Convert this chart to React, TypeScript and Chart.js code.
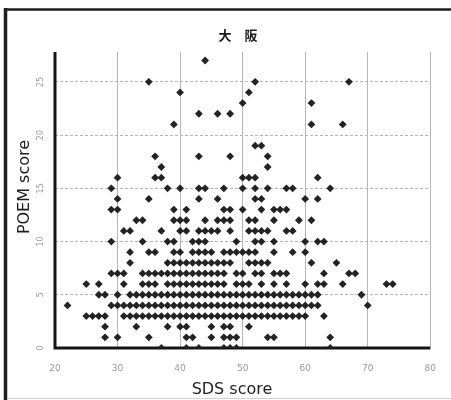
import React, { useEffect, useRef } from "react";
import { Chart, registerables } from "chart.js";

Chart.register(...registerables);

// ---- text ----
const chartTitle = "大　阪";
const xAxisTitle = "SDS score";
const yAxisTitle = "POEM score";

// ---- axis ticks ----
const xTickValues = [20, 30, 40, 50, 60, 70, 80];
const yTickValues = [0, 5, 10, 15, 20, 25];

// ---- data: SDS scores observed at each POEM score ----
const sdsAtPoem27 = [44];
const sdsAtPoem25 = [35, 52, 67];
const sdsAtPoem24 = [40, 51];
const sdsAtPoem23 = [50, 61];
const sdsAtPoem22 = [43, 46, 48];
const sdsAtPoem21 = [39, 61, 66];
const sdsAtPoem19 = [52, 53];
const sdsAtPoem18 = [36, 43, 48, 54];
const sdsAtPoem17 = [37, 54];
const sdsAtPoem16 = [30, 36, 37, 50, 51, 52, 62];
const sdsAtPoem15 = [29, 38, 40, 43, 44, 47, 50, 52, 54, 57, 58, 64];
const sdsAtPoem14 = [30, 35, 43, 46, 52, 53, 60, 62];
const sdsAtPoem13 = [29, 30, 39, 41, 47, 48, 50, 53, 55, 56, 57];
const sdsAtPoem12 = [33, 34, 39, 40, 41, 44, 46, 47, 48, 51, 52, 55, 59, 61];
const sdsAtPoem11 = [31, 32, 37, 40, 41, 43, 44, 45, 46, 48, 51, 52, 53, 54, 57, 58];
const sdsAtPoem10 = [29, 34, 38, 39, 42, 43, 44, 49, 52, 53, 55, 60, 62, 63];
const sdsAtPoem9 = [32, 35, 36, 39, 40, 42, 43, 44, 45, 47, 48, 49, 50, 51, 52, 55, 58, 60];
const sdsAtPoem8 = [32, 38, 39, 40, 41, 42, 43, 44, 45, 46, 47, 48, 51, 52, 53, 54, 61, 65];
const sdsAtPoem7 = [29, 30, 31, 34, 35, 36, 37, 38, 39, 40, 41, 42, 43, 44, 45, 46, 47, 49, 50, 52, 53, 55, 56, 57, 63, 67, 68];
const sdsAtPoem6 = [25, 27, 31, 34, 35, 36, 38, 39, 40, 41, 42, 43, 44, 45, 46, 47, 49, 50, 51, 53, 55, 57, 60, 62, 63, 66, 73, 74];
const sdsAtPoem5 = [27, 28, 30, 32, 33, 34, 35, 36, 37, 38, 39, 40, 41, 42, 43, 44, 45, 46, 47, 48, 49, 50, 51, 52, 53, 54, 55, 56, 57, 58, 59, 60, 61, 62, 69];
const sdsAtPoem4 = [22, 29, 30, 31, 32, 33, 34, 35, 36, 37, 38, 39, 40, 41, 42, 43, 44, 45, 46, 47, 48, 49, 50, 51, 52, 53, 54, 55, 56, 57, 58, 59, 60, 61, 62, 70];
const sdsAtPoem3 = [25, 26, 27, 28, 31, 32, 33, 34, 35, 36, 37, 38, 39, 40, 41, 42, 43, 44, 45, 46, 47, 48, 49, 50, 51, 52, 53, 54, 55, 56, 57, 58, 59, 60, 63];
const sdsAtPoem2 = [28, 33, 38, 40, 41, 45, 47, 48, 51];
const sdsAtPoem1 = [28, 30, 35, 41, 42, 45, 47, 48, 49, 54, 55, 64];
const sdsAtPoem0 = [37, 41, 43, 47, 48, 49, 64];

const poemRows: [number, number[]][] = [
  [27, sdsAtPoem27], [25, sdsAtPoem25], [24, sdsAtPoem24], [23, sdsAtPoem23],
  [22, sdsAtPoem22], [21, sdsAtPoem21], [19, sdsAtPoem19], [18, sdsAtPoem18],
  [17, sdsAtPoem17], [16, sdsAtPoem16], [15, sdsAtPoem15], [14, sdsAtPoem14],
  [13, sdsAtPoem13], [12, sdsAtPoem12], [11, sdsAtPoem11], [10, sdsAtPoem10],
  [9, sdsAtPoem9], [8, sdsAtPoem8], [7, sdsAtPoem7], [6, sdsAtPoem6],
  [5, sdsAtPoem5], [4, sdsAtPoem4], [3, sdsAtPoem3], [2, sdsAtPoem2],
  [1, sdsAtPoem1], [0, sdsAtPoem0],
];

const framePlugin = {
  id: "frameAndText",
  beforeDraw(chart: any) {
    const { ctx, width, height } = chart;
    ctx.save();
    ctx.fillStyle = "#ffffff";
    ctx.fillRect(0, 0, width, height);
    ctx.strokeStyle = "#1e1e1e";
    ctx.lineWidth = 2.5;
    ctx.beginPath();
    ctx.moveTo(4, 9.5);
    ctx.lineTo(width, 9.5);
    ctx.stroke();
    ctx.lineWidth = 3.5;
    ctx.beginPath();
    ctx.moveTo(5.5, 8);
    ctx.lineTo(5.5, height);
    ctx.stroke();
    ctx.strokeStyle = "#d0d0d0";
    ctx.lineWidth = 1;
    ctx.beginPath();
    ctx.moveTo(7, 398.5);
    ctx.lineTo(width, 398.5);
    ctx.stroke();
    ctx.restore();
  },
  beforeDatasetsDraw(chart: any) {
    const { ctx, chartArea } = chart;
    ctx.save();
    ctx.strokeStyle = "#151515";
    ctx.lineWidth = 3;
    ctx.beginPath();
    ctx.moveTo(chartArea.left, chartArea.top);
    ctx.lineTo(chartArea.left, chartArea.bottom);
    ctx.moveTo(chartArea.left - 1.5, chartArea.bottom);
    ctx.lineTo(chartArea.right, chartArea.bottom);
    ctx.stroke();
    ctx.restore();
  },
  afterDraw(chart: any) {
    const { ctx } = chart;
    ctx.save();
    ctx.fillStyle = "#1a1a1a";
    ctx.font = "bold 13px 'Noto Sans CJK JP'";
    ctx.textAlign = "center";
    ctx.textBaseline = "middle";
    ctx.fillText(chartTitle, 238, 35);

    ctx.fillStyle = "#1e1e1e";
    ctx.font = "16px 'DejaVu Sans'";
    ctx.textBaseline = "alphabetic";
    ctx.fillText(xAxisTitle, 232, 394);

    ctx.translate(29, 187);
    ctx.rotate(-Math.PI / 2);
    ctx.fillText(yAxisTitle, 0, 0);
    ctx.restore();
  },
};

export default function App() {
  const canvasRef = useRef<HTMLCanvasElement | null>(null);

  useEffect(() => {
    if (!canvasRef.current) return;
    const points = poemRows.flatMap(([poem, sdsList]) =>
      sdsList.map((sds) => ({ x: sds, y: poem }))
    );
    const chart = new Chart(canvasRef.current, {
      type: "scatter",
      data: {
        datasets: [
          {
            label: yAxisTitle,
            data: points,
            pointStyle: "rectRot",
            pointRadius: 3.9,
            pointBackgroundColor: "#232323",
            pointBorderWidth: 0,
            pointBorderColor: "#232323",
          },
        ],
      },
      options: {
        responsive: false,
        animation: false,
        devicePixelRatio: 1,
        layout: { padding: { left: 0, right: 15, top: 52, bottom: 0 } },
        plugins: {
          legend: { display: false },
          title: { display: false },
          tooltip: { enabled: false },
        },
        scales: {
          x: {
            type: "linear",
            min: 20,
            max: 80,
            afterBuildTicks: (s: any) => {
              s.ticks = xTickValues.map((v) => ({ value: v }));
            },
            afterFit: (s: any) => {
              s.height = 52;
            },
            ticks: {
              color: "#9a9a9a",
              font: { family: "'DejaVu Sans'", size: 9 },
              padding: 15,
              maxRotation: 0,
              minRotation: 0,
            },
            grid: { color: "#b5b5b5", lineWidth: 1, drawTicks: false },
            border: { display: false },
          },
          y: {
            type: "linear",
            min: 0,
            max: 27.8,
            afterBuildTicks: (s: any) => {
              s.ticks = yTickValues.map((v) => ({ value: v }));
            },
            afterFit: (s: any) => {
              s.width = 55;
            },
            ticks: {
              color: "#9a9a9a",
              font: { family: "'DejaVu Sans'", size: 8 },
              padding: 9,
              minRotation: 90,
              maxRotation: 90,
              crossAlign: "center",
            },
            grid: { color: "#b5b5b5", lineWidth: 1, drawTicks: false },
            border: { display: false, dash: [3, 2] },
          },
        },
      },
      plugins: [framePlugin],
    });
    return () => chart.destroy();
  }, []);

  return (
    <div style={{ position: "absolute", left: 0, top: 0, width: 451, height: 400 }}>
      <canvas ref={canvasRef} width={451} height={400} style={{ width: 451, height: 400 }} />
    </div>
  );
}
